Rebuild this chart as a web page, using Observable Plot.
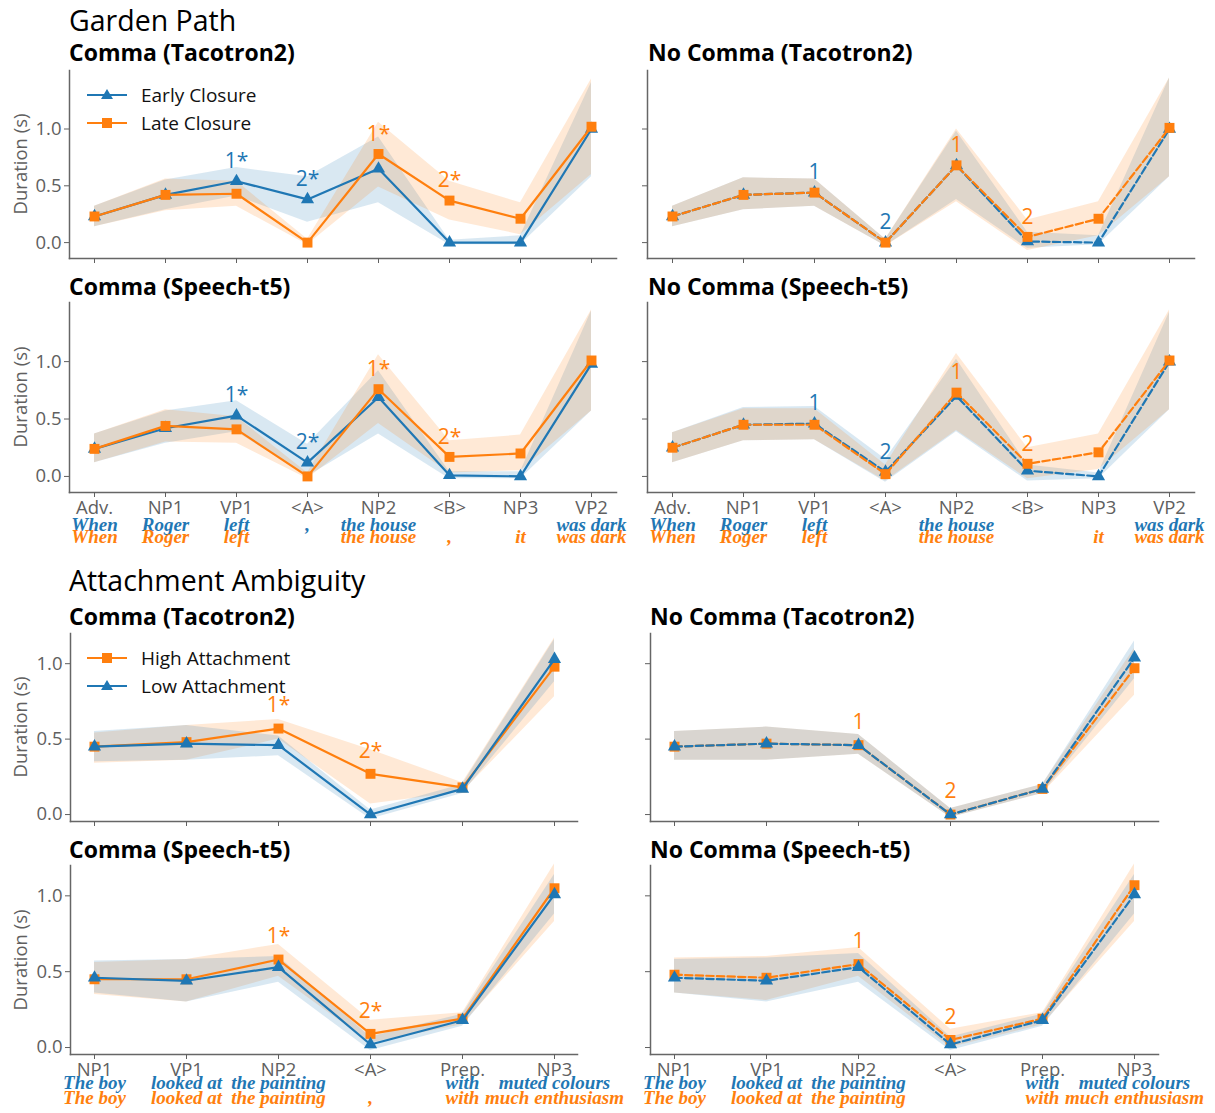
<!DOCTYPE html>
<html><head><meta charset="utf-8">
<script src="https://cdn.jsdelivr.net/npm/d3@7"></script>
<script src="https://cdn.jsdelivr.net/npm/@observablehq/plot@0.6"></script>
<style>
body{margin:0;background:#fff;}
#root{position:relative;width:1215px;height:1113px;font-family:"Open Sans",sans-serif;overflow:hidden;}
.t{position:absolute;white-space:nowrap;line-height:1.2;transform:translateY(-50%);}
.sec{font-size:28.5px;color:#000;}
.pt{font-size:23px;font-weight:bold;color:#000;}
.lg{font-size:19px;color:#111;}
.yl{position:absolute;white-space:nowrap;font-size:18.5px;color:#606060;transform:translate(-50%,-50%) rotate(-90deg);}
svg.p{position:absolute;overflow:visible;}
</style></head><body><div id="root"></div><script>
const BLUE = "#1f77b4", ORANGE = "#ff7f0e";
const yTicks = [0, 0.5, 1.0];

// ---------- Garden Path ----------
const gpCategories = ["Adv.", "NP1", "VP1", "<A>", "NP2", "<B>", "NP3", "VP2"];
const gpWordsEarlyComma = ["When", "Roger", "left", ",", "the house", "", "", "was dark"];
const gpWordsLateComma  = ["When", "Roger", "left", "", "the house", ",", "it", "was dark"];
const gpWordsEarlyNo    = ["When", "Roger", "left", "", "the house", "", "", "was dark"];
const gpWordsLateNo     = ["When", "Roger", "left", "", "the house", "", "it", "was dark"];

// Comma (Tacotron2)
const gpTCEarly   = [0.23, 0.42, 0.54, 0.38, 0.65, 0.00, 0.00, 1.00];
const gpTCEarlyLo = [0.14, 0.29, 0.41, 0.18, 0.35, -0.02, -0.02, 0.58];
const gpTCEarlyHi = [0.32, 0.55, 0.66, 0.58, 0.93, 0.02, 0.06, 1.41];
const gpTCLate    = [0.23, 0.42, 0.43, 0.00, 0.78, 0.37, 0.21, 1.02];
const gpTCLateLo  = [0.14, 0.28, 0.32, -0.02, 0.49, 0.20, 0.07, 0.60];
const gpTCLateHi  = [0.32, 0.56, 0.54, 0.03, 1.06, 0.54, 0.35, 1.44];
const gpTCEarlyAnn = ["", "", "1*", "2*", "", "", "", ""];
const gpTCLateAnn  = ["", "", "", "", "1*", "2*", "", ""];

// No Comma (Tacotron2)
const gpTNEarly   = [0.23, 0.42, 0.44, 0.00, 0.68, 0.01, 0.00, 1.00];
const gpTNEarlyLo = [0.14, 0.29, 0.32, -0.03, 0.38, -0.05, -0.02, 0.58];
const gpTNEarlyHi = [0.32, 0.57, 0.56, 0.03, 0.98, 0.09, 0.06, 1.45];
const gpTNLate    = [0.23, 0.42, 0.44, 0.00, 0.68, 0.05, 0.21, 1.01];
const gpTNLateLo  = [0.14, 0.29, 0.32, -0.03, 0.36, -0.07, 0.06, 0.58];
const gpTNLateHi  = [0.32, 0.57, 0.56, 0.03, 1.00, 0.20, 0.36, 1.45];
const gpTNEarlyAnn = ["", "", "1", "2", "", "", "", ""];
const gpTNLateAnn  = ["", "", "", "", "1", "2", "", ""];

// Comma (Speech-t5)
const gpSCEarly   = [0.24, 0.42, 0.53, 0.12, 0.69, 0.01, 0.00, 0.98];
const gpSCEarlyLo = [0.12, 0.29, 0.39, 0.00, 0.37, -0.02, -0.02, 0.57];
const gpSCEarlyHi = [0.37, 0.57, 0.66, 0.28, 0.92, 0.04, 0.04, 1.44];
const gpSCLate    = [0.24, 0.44, 0.41, 0.00, 0.76, 0.17, 0.20, 1.01];
const gpSCLateLo  = [0.12, 0.30, 0.29, -0.02, 0.46, 0.03, 0.05, 0.57];
const gpSCLateHi  = [0.37, 0.58, 0.52, 0.03, 1.06, 0.31, 0.36, 1.45];
const gpSCEarlyAnn = ["", "", "1*", "2*", "", "", "", ""];
const gpSCLateAnn  = ["", "", "", "", "1*", "2*", "", ""];

// No Comma (Speech-t5)
const gpSNEarly   = [0.25, 0.45, 0.46, 0.04, 0.70, 0.05, 0.00, 1.00];
const gpSNEarlyLo = [0.12, 0.31, 0.32, -0.05, 0.39, -0.04, -0.02, 0.58];
const gpSNEarlyHi = [0.38, 0.60, 0.61, 0.15, 1.02, 0.10, 0.03, 1.43];
const gpSNLate    = [0.25, 0.45, 0.45, 0.02, 0.73, 0.11, 0.21, 1.01];
const gpSNLateLo  = [0.12, 0.31, 0.32, -0.04, 0.40, -0.02, 0.06, 0.58];
const gpSNLateHi  = [0.38, 0.59, 0.59, 0.10, 1.07, 0.25, 0.37, 1.45];
const gpSNEarlyAnn = ["", "", "1", "2", "", "", "", ""];
const gpSNLateAnn  = ["", "", "", "", "1", "2", "", ""];

// ---------- Attachment Ambiguity ----------
const aaCategories = ["NP1", "VP1", "NP2", "<A>", "Prep.", "NP3"];
const aaWordsLowComma  = ["The boy", "looked at", "the painting", "", "with", "muted colours"];
const aaWordsHighComma = ["The boy", "looked at", "the painting", ",", "with", "much enthusiasm"];
const aaWordsLowNo     = ["The boy", "looked at", "the painting", "", "with", "muted colours"];
const aaWordsHighNo    = ["The boy", "looked at", "the painting", "", "with", "much enthusiasm"];

// Comma (Tacotron2)
const aaTCHigh   = [0.45, 0.48, 0.57, 0.27, 0.18, 0.98];
const aaTCHighLo = [0.34, 0.36, 0.50, 0.07, 0.15, 0.78];
const aaTCHighHi = [0.54, 0.59, 0.63, 0.43, 0.21, 1.17];
const aaTCLow    = [0.45, 0.47, 0.46, 0.00, 0.17, 1.03];
const aaTCLowLo  = [0.35, 0.36, 0.39, -0.03, 0.14, 0.88];
const aaTCLowHi  = [0.55, 0.59, 0.52, 0.03, 0.20, 1.16];
const aaTCHighAnn = ["", "", "1*", "2*", "", ""];
const aaTCLowAnn  = ["", "", "", "", "", ""];

// No Comma (Tacotron2)
const aaTNHigh   = [0.45, 0.47, 0.46, 0.00, 0.17, 0.97];
const aaTNHighLo = [0.36, 0.36, 0.40, -0.02, 0.14, 0.79];
const aaTNHighHi = [0.55, 0.58, 0.53, 0.04, 0.20, 1.10];
const aaTNLow    = [0.45, 0.47, 0.46, 0.00, 0.17, 1.04];
const aaTNLowLo  = [0.36, 0.36, 0.40, -0.02, 0.14, 0.90];
const aaTNLowHi  = [0.55, 0.58, 0.53, 0.04, 0.20, 1.15];
const aaTNHighAnn = ["", "", "1", "2", "", ""];
const aaTNLowAnn  = ["", "", "", "", "", ""];

// Comma (Speech-t5)
const aaSCHigh   = [0.45, 0.45, 0.58, 0.09, 0.19, 1.05];
const aaSCHighLo = [0.35, 0.30, 0.47, 0.03, 0.15, 0.83];
const aaSCHighHi = [0.56, 0.58, 0.68, 0.18, 0.23, 1.21];
const aaSCLow    = [0.46, 0.44, 0.53, 0.02, 0.18, 1.01];
const aaSCLowLo  = [0.36, 0.30, 0.43, -0.02, 0.14, 0.88];
const aaSCLowHi  = [0.57, 0.58, 0.60, 0.07, 0.22, 1.14];
const aaSCHighAnn = ["", "", "1*", "2*", "", ""];
const aaSCLowAnn  = ["", "", "", "", "", ""];

// No Comma (Speech-t5)
const aaSNHigh   = [0.48, 0.46, 0.55, 0.05, 0.19, 1.07];
const aaSNHighLo = [0.36, 0.31, 0.47, 0.00, 0.15, 0.83];
const aaSNHighHi = [0.59, 0.60, 0.66, 0.12, 0.23, 1.21];
const aaSNLow    = [0.46, 0.44, 0.53, 0.02, 0.18, 1.01];
const aaSNLowLo  = [0.36, 0.30, 0.43, -0.02, 0.14, 0.88];
const aaSNLowHi  = [0.58, 0.59, 0.62, 0.07, 0.22, 1.14];
const aaSNHighAnn = ["", "", "1", "2", "", ""];
const aaSNLowAnn  = ["", "", "", "", "", ""];

// ---------- layout ----------
const root = document.getElementById("root");
function addText(cls, text, x, y) {
  const d = document.createElement("div");
  d.className = "t " + cls;
  d.textContent = text;
  d.style.left = x + "px"; d.style.top = y + "px";
  root.appendChild(d);
}
function addYLabel(x, y) {
  const d = document.createElement("div");
  d.className = "yl"; d.textContent = "Duration (s)";
  d.style.left = x + "px"; d.style.top = y + "px";
  root.appendChild(d);
}
function addLegend(items, x, y0, dy) {
  items.forEach((it, i) => {
    const y = y0 + i * dy;
    const ns = "http://www.w3.org/2000/svg";
    const s = document.createElementNS(ns, "svg");
    s.setAttribute("width", 44); s.setAttribute("height", 20);
    s.style.position = "absolute"; s.style.left = x + "px"; s.style.top = (y - 10) + "px";
    const sym = it.symbol === "triangle"
      ? `<path d="M22,4 L28,14 L16,14 Z" fill="${it.color}"/>`
      : `<rect x="17" y="5" width="10" height="10" fill="${it.color}"/>`;
    s.innerHTML = `<line x1="2" x2="42" y1="10" y2="10" stroke="${it.color}" stroke-width="2.2"/>` + sym;
    root.appendChild(s);
    addText("lg", it.name, x + 56, y);
  });
}

const rows = [
  {frameTop: 70,  frameBottom: 258},
  {frameTop: 302, frameBottom: 492},
  {frameTop: 633, frameBottom: 821},
  {frameTop: 865, frameBottom: 1054}
];

function makePanel(cfg) {
  const {cats, series, row, svgLeft, svgWidth, frameLeft, frameRight, yDomain, padding,
         showY, showX, dashed, annDy, wordDy} = cfg;
  const r = rows[row];
  const mt = 12, mb = 70;
  const frameH = r.frameBottom - r.frameTop;
  const idx = cats.map((_, i) => i);
  const marks = [];
  for (const s of series) {
    marks.push(Plot.areaY(idx, {x: i => cats[i], y1: i => s.lo[i], y2: i => s.hi[i],
      fill: s.color, fillOpacity: 0.17, curve: "linear"}));
  }
  marks.push(Plot.frame({anchor: "left", stroke: "#666", strokeWidth: 1.5}));
  marks.push(Plot.frame({anchor: "bottom", stroke: "#666", strokeWidth: 1.5}));
  marks.push(Plot.axisY({ticks: yTicks, tickSize: 5, tickPadding: 3, label: null,
    tickFormat: showY ? d3.format(".1f") : () => ""}));
  marks.push(Plot.axisX({tickSize: 5, tickPadding: 3, label: null,
    tickFormat: showX ? (d => d) : () => ""}));
  for (const s of series) {
    marks.push(Plot.line(idx, {x: i => cats[i], y: i => s.mean[i], stroke: s.color, strokeWidth: 2.2,
      strokeDasharray: dashed ? "7.4,3.2" : null, curve: "linear"}));
    marks.push(Plot.dot(idx, {x: i => cats[i], y: i => s.mean[i], symbol: s.symbol,
      r: s.symbol === "triangle" ? 4.9 : 5.6, fill: s.color, stroke: null}));
  }
  for (const s of series) {
    const ai = idx.filter(i => s.ann[i]);
    marks.push(Plot.text(ai, {x: i => cats[i], y: i => s.mean[i], text: i => s.ann[i],
      dy: annDy, fill: s.color, fontSize: 21, fontFamily: "Open Sans"}));
  }
  if (showX) {
    series.forEach((s, k) => {
      const wi = idx.filter(i => s.words[i]);
      marks.push(Plot.text(wi, {x: i => cats[i], frameAnchor: "bottom", dy: wordDy[k],
        text: i => s.words[i], fill: s.color, fontFamily: "Liberation Serif",
        fontStyle: "italic", fontWeight: "bold", fontSize: 19}));
    });
  }
  const svg = Plot.plot({
    width: svgWidth, height: frameH + mt + mb,
    marginLeft: frameLeft - svgLeft, marginRight: svgLeft + svgWidth - frameRight,
    marginTop: mt, marginBottom: mb,
    x: {type: "point", domain: cats, padding},
    y: {domain: yDomain},
    style: {fontFamily: "Open Sans", fontSize: "18.5px", color: "#606060", background: "transparent", overflow: "visible"},
    marks
  });
  svg.classList.add("p");
  svg.style.left = svgLeft + "px";
  svg.style.top = (r.frameTop - mt) + "px";
  root.appendChild(svg);
}

const gpDomain = [-0.14, 1.515];
const aaDomain = [-0.046, 1.2];
const ser = (color, symbol, mean, lo, hi, ann, words) => ({color, symbol, mean, lo, hi, ann, words});

// Garden Path panels
makePanel({cats: gpCategories, row: 0, svgLeft: 0, svgWidth: 625, frameLeft: 69, frameRight: 616,
  yDomain: gpDomain, padding: 0.35, showY: true, showX: false, dashed: false, annDy: -20,
  series: [ser(BLUE, "triangle", gpTCEarly, gpTCEarlyLo, gpTCEarlyHi, gpTCEarlyAnn, gpWordsEarlyComma),
           ser(ORANGE, "square", gpTCLate, gpTCLateLo, gpTCLateHi, gpTCLateAnn, gpWordsLateComma)]});
makePanel({cats: gpCategories, row: 0, svgLeft: 625, svgWidth: 590, frameLeft: 647, frameRight: 1194,
  yDomain: gpDomain, padding: 0.35, showY: false, showX: false, dashed: true, annDy: -20,
  series: [ser(BLUE, "triangle", gpTNEarly, gpTNEarlyLo, gpTNEarlyHi, gpTNEarlyAnn, gpWordsEarlyNo),
           ser(ORANGE, "square", gpTNLate, gpTNLateLo, gpTNLateHi, gpTNLateAnn, gpWordsLateNo)]});
makePanel({cats: gpCategories, row: 1, svgLeft: 0, svgWidth: 625, frameLeft: 69, frameRight: 616,
  yDomain: gpDomain, padding: 0.35, showY: true, showX: true, dashed: false, annDy: -20, wordDy: [38, 50],
  series: [ser(BLUE, "triangle", gpSCEarly, gpSCEarlyLo, gpSCEarlyHi, gpSCEarlyAnn, gpWordsEarlyComma),
           ser(ORANGE, "square", gpSCLate, gpSCLateLo, gpSCLateHi, gpSCLateAnn, gpWordsLateComma)]});
makePanel({cats: gpCategories, row: 1, svgLeft: 625, svgWidth: 590, frameLeft: 647, frameRight: 1194,
  yDomain: gpDomain, padding: 0.35, showY: false, showX: true, dashed: true, annDy: -20, wordDy: [38, 50],
  series: [ser(BLUE, "triangle", gpSNEarly, gpSNEarlyLo, gpSNEarlyHi, gpSNEarlyAnn, gpWordsEarlyNo),
           ser(ORANGE, "square", gpSNLate, gpSNLateLo, gpSNLateHi, gpSNLateAnn, gpWordsLateNo)]});

// Attachment Ambiguity panels (High drawn first, Low on top)
makePanel({cats: aaCategories, row: 2, svgLeft: 0, svgWidth: 625, frameLeft: 70, frameRight: 577,
  yDomain: aaDomain, padding: 0.24, showY: true, showX: false, dashed: false, annDy: -23,
  series: [ser(ORANGE, "square", aaTCHigh, aaTCHighLo, aaTCHighHi, aaTCHighAnn, aaWordsHighComma),
           ser(BLUE, "triangle", aaTCLow, aaTCLowLo, aaTCLowHi, aaTCLowAnn, aaWordsLowComma)]});
makePanel({cats: aaCategories, row: 2, svgLeft: 625, svgWidth: 590, frameLeft: 650, frameRight: 1158,
  yDomain: aaDomain, padding: 0.24, showY: false, showX: false, dashed: true, annDy: -23,
  series: [ser(ORANGE, "square", aaTNHigh, aaTNHighLo, aaTNHighHi, aaTNHighAnn, aaWordsHighNo),
           ser(BLUE, "triangle", aaTNLow, aaTNLowLo, aaTNLowHi, aaTNLowAnn, aaWordsLowNo)]});
makePanel({cats: aaCategories, row: 3, svgLeft: 0, svgWidth: 625, frameLeft: 70, frameRight: 577,
  yDomain: aaDomain, padding: 0.24, showY: true, showX: true, dashed: false, annDy: -23, wordDy: [49, 34],
  series: [ser(ORANGE, "square", aaSCHigh, aaSCHighLo, aaSCHighHi, aaSCHighAnn, aaWordsHighComma),
           ser(BLUE, "triangle", aaSCLow, aaSCLowLo, aaSCLowHi, aaSCLowAnn, aaWordsLowComma)]});
makePanel({cats: aaCategories, row: 3, svgLeft: 625, svgWidth: 590, frameLeft: 650, frameRight: 1158,
  yDomain: aaDomain, padding: 0.24, showY: false, showX: true, dashed: true, annDy: -23, wordDy: [49, 34],
  series: [ser(ORANGE, "square", aaSNHigh, aaSNHighLo, aaSNHighHi, aaSNHighAnn, aaWordsHighNo),
           ser(BLUE, "triangle", aaSNLow, aaSNLowLo, aaSNLowHi, aaSNLowAnn, aaWordsLowNo)]});

// titles
addText("sec", "Garden Path", 69, 20);
addText("pt", "Comma (Tacotron2)", 69, 53);
addText("pt", "No Comma (Tacotron2)", 648, 53);
addText("pt", "Comma (Speech-t5)", 69, 287);
addText("pt", "No Comma (Speech-t5)", 648, 287);
addText("sec", "Attachment Ambiguity", 69, 580);
addText("pt", "Comma (Tacotron2)", 69, 617);
addText("pt", "No Comma (Tacotron2)", 650, 617);
addText("pt", "Comma (Speech-t5)", 69, 850);
addText("pt", "No Comma (Speech-t5)", 650, 850);

// y labels
rows.forEach(r => addYLabel(19, (r.frameTop + r.frameBottom) / 2));

// legends
addLegend([{name: "Early Closure", color: BLUE, symbol: "triangle"},
           {name: "Late Closure", color: ORANGE, symbol: "square"}], 85, 95, 28);
addLegend([{name: "High Attachment", color: ORANGE, symbol: "square"},
           {name: "Low Attachment", color: BLUE, symbol: "triangle"}], 85, 658, 28);
</script></body></html>
